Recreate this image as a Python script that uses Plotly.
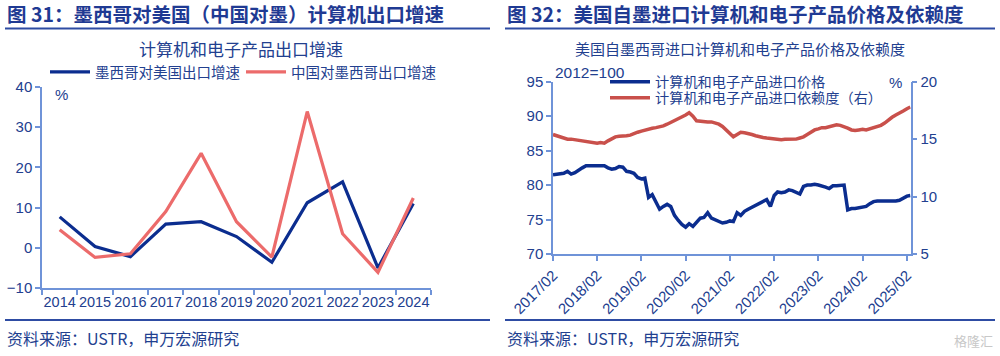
import plotly.graph_objects as go
import pandas as pd

# ---------------- data: left chart ----------------
years = ['2014', '2015', '2016', '2017', '2018', '2019', '2020', '2021', '2022', '2023', '2024']
mx_to_us = [7.7, 0.3, -2.2, 5.9, 6.5, 2.8, -3.6, 11.2, 16.4, -5.0, 11.0]
cn_to_mx = [4.5, -2.4, -1.5, 9.0, 23.5, 6.5, -2.3, 33.9, 3.5, -6.1, 12.4]

# ---------------- data: right chart (monthly, 2017/02 - 2025/03) ----------------
start_month = '2017-02-01'
import_price = [
    81.5, 81.6, 81.6, 81.7, 82.0, 81.6, 81.8, 82.2, 82.5, 82.8, 82.8, 82.9,
    82.9, 82.9, 82.8, 82.5, 82.3, 82.4, 82.7, 82.6, 82.0, 81.9, 81.7, 81.1,
    80.9, 81.0, 78.2, 78.6, 77.6, 76.5, 76.9, 77.2, 76.9, 75.6, 74.9, 74.3,
    73.9, 74.4, 74.0, 74.6, 75.2, 75.3, 76.0, 75.2, 75.0, 74.8, 74.5, 74.6,
    74.8, 74.7, 76.0, 75.6, 76.2, 76.5, 76.8, 77.1, 77.4, 77.6, 77.9, 76.9,
    78.5, 79.0, 78.9, 79.0, 79.3, 79.2, 79.0, 78.7, 79.8, 80.0, 80.0, 80.1,
    80.0, 79.9, 79.7, 79.5, 79.9, 79.9, 80.0, 80.0, 76.4, 76.6, 76.6, 76.7,
    76.7, 76.9, 77.3, 77.6, 77.7, 77.7, 77.7, 77.6, 77.7, 77.7, 77.8, 78.1,
    78.4, 78.5,
]
dependence = [
    15.4, 15.3, 15.2, 15.1, 15.0, 15.0, 14.95, 14.85, 14.8, 14.75, 14.7, 14.7,
    14.65, 14.7, 14.65, 14.85, 15.05, 15.2, 15.25, 15.25, 15.3, 15.35, 15.5, 15.6,
    15.7, 15.8, 15.85, 15.95, 16.0, 16.05, 16.15, 16.3, 16.45, 16.6, 16.75, 16.9,
    17.1, 17.3, 17.0, 16.6, 16.55, 16.55, 16.5, 16.5, 16.4, 16.3, 16.1, 15.8,
    15.5, 15.2, 15.4, 15.6, 15.55, 15.5, 15.4, 15.3, 15.2, 15.15, 15.1, 15.05,
    15.0, 14.95, 14.95, 14.98, 15.0, 14.98, 15.0, 15.1, 15.2, 15.4, 15.6, 15.8,
    15.9, 16.0, 16.0, 16.1, 16.2, 16.25, 16.2, 16.1, 15.95, 15.8, 15.75, 15.8,
    15.85, 15.8, 15.9, 16.0, 16.1, 16.2, 16.4, 16.7, 16.9, 17.1, 17.25, 17.45,
    17.65, 17.8,
]
months = pd.date_range(start_month, periods=len(import_price), freq='MS')
tick_dates = pd.date_range('2017-02-01', '2025-02-01', freq='12MS')
tick_text = [d.strftime('%Y/%m') for d in tick_dates]

# ---------------- styling ----------------
W, H = 1000, 356
FONT = 'Liberation Sans, Noto Sans CJK SC, sans-serif'
CJK = 'Noto Sans CJK SC, sans-serif'
TXT = '#22408F'
AXIS = '#6F93D8'
HEAD = '#1F3A93'
NAVY = '#0B2D8F'
SALMON = '#EC6B6B'
BRICK = '#C9504B'


def px(y):
    return 1 - y / H


fig = go.Figure()

fig.add_trace(go.Scatter(x=years, y=mx_to_us, name='墨西哥对美国出口增速', mode='lines',
                         line=dict(color=NAVY, width=3.2), xaxis='x', yaxis='y', legend='legend'))
fig.add_trace(go.Scatter(x=years, y=cn_to_mx, name='中国对墨西哥出口增速', mode='lines',
                         line=dict(color=SALMON, width=3.2), xaxis='x', yaxis='y', legend='legend2'))

fig.add_trace(go.Scatter(x=months, y=import_price, name='计算机和电子产品进口价格', mode='lines',
                         line=dict(color=NAVY, width=3.5), xaxis='x2', yaxis='y2', legend='legend3'))
fig.add_trace(go.Scatter(x=months, y=dependence, name='计算机和电子产品进口依赖度（右）', mode='lines',
                         line=dict(color=BRICK, width=3.5), xaxis='x2', yaxis='y3', legend='legend4'))

axis_common = dict(showgrid=False, zeroline=False, showline=True, linecolor=AXIS, linewidth=1.5,
                   ticks='outside', ticklen=5, tickcolor=AXIS, tickwidth=1.5, automargin=False,
                   tickfont=dict(family=FONT, size=15, color=TXT))


def leg(x, y, size=14.5):
    return dict(orientation='h', x=x / W, xanchor='left', y=px(y), yanchor='middle',
                font=dict(family=CJK, size=size, color=TXT), itemwidth=40,
                bgcolor='rgba(0,0,0,0)', borderwidth=0)


fig.update_layout(
    template='none',
    width=W, height=H, autosize=False,
    margin=dict(l=0, r=0, t=0, b=0, autoexpand=False),
    paper_bgcolor='white', plot_bgcolor='white',
    font=dict(family=FONT, color=TXT),
    xaxis=dict(domain=[0.042, 0.431], type='category', range=[-0.5, 10.5], tickson='boundaries',
               tickangle=0, anchor='y', **{**axis_common, 'tickfont': dict(family=FONT, size=14.5, color=TXT)}),
    yaxis=dict(domain=[px(288), px(87)], range=[-10, 40], dtick=10, anchor='x', **axis_common),
    xaxis2=dict(domain=[0.553, 0.9107], type='date', range=['2017-02-01', '2025-03-04'],
                tickvals=list(tick_dates), ticktext=tick_text, tickangle=-45, anchor='y2', **axis_common),
    yaxis2=dict(domain=[px(254), px(81.7)], range=[70, 95], dtick=5, anchor='x2', **axis_common),
    yaxis3=dict(range=[5, 20], dtick=5, overlaying='y2', side='right', anchor='x2', **axis_common),
    legend=leg(45, 72),
    legend2=leg(241, 72),
    legend3=leg(605, 82, 14.2),
    legend4=leg(605, 98, 14.2),
    showlegend=True,
)

ann = []
# panel headers
ann.append(dict(text='<b>图 31：墨西哥对美国（中国对墨）计算机出口增速</b>', x=5 / W, y=px(13),
                xanchor='left', yanchor='middle', font=dict(family=CJK, size=19.5, color=HEAD)))
ann.append(dict(text='<b>图 32：美国自墨进口计算机和电子产品价格及依赖度</b>', x=505 / W, y=px(13),
                xanchor='left', yanchor='middle', font=dict(family=CJK, size=19.5, color=HEAD)))
# chart titles
ann.append(dict(text='计算机和电子产品出口增速', x=241 / W, y=px(48.5), xanchor='center', yanchor='middle',
                font=dict(family=CJK, size=17, color=TXT)))
ann.append(dict(text='美国自墨西哥进口计算机和电子产品价格及依赖度', x=740 / W, y=px(49),
                xanchor='center', yanchor='middle', font=dict(family=CJK, size=15, color=TXT)))
# units
ann.append(dict(text='%', x=53 / W, y=px(95), xanchor='left', yanchor='middle',
                font=dict(family=FONT, size=15, color=TXT)))
ann.append(dict(text='2012=100', x=553 / W, y=px(72), xanchor='left', yanchor='middle',
                font=dict(family=FONT, size=15.5, color=TXT)))
ann.append(dict(text='%', x=887 / W, y=px(82), xanchor='left', yanchor='middle',
                font=dict(family=FONT, size=15, color=TXT)))
# sources
for x0 in (5, 505):
    ann.append(dict(text='资料来源：USTR，申万宏源研究', x=x0 / W, y=px(338), xanchor='left', yanchor='middle',
                    font=dict(family=CJK, size=16, color=TXT)))
# watermark
ann.append(dict(text='格隆汇', x=995 / W, y=px(340), xanchor='right', yanchor='middle',
                font=dict(family=CJK, size=13, color='#C8C8C8')))
for a in ann:
    a.update(xref='paper', yref='paper', showarrow=False)
fig.update_layout(annotations=ann)

shapes = []
for (x0, x1) in ((5, 490), (505, 995)):
    for yy in (28.5, 320):
        shapes.append(dict(type='line', xref='paper', yref='paper', x0=x0 / W, x1=x1 / W,
                           y0=px(yy), y1=px(yy), line=dict(color='#2E4CA3', width=2.2)))
fig.update_layout(shapes=shapes)

fig.write_html('out.html', config={'displayModeBar': False},
               post_script="document.body.style.margin='0';document.body.style.padding='0';")
